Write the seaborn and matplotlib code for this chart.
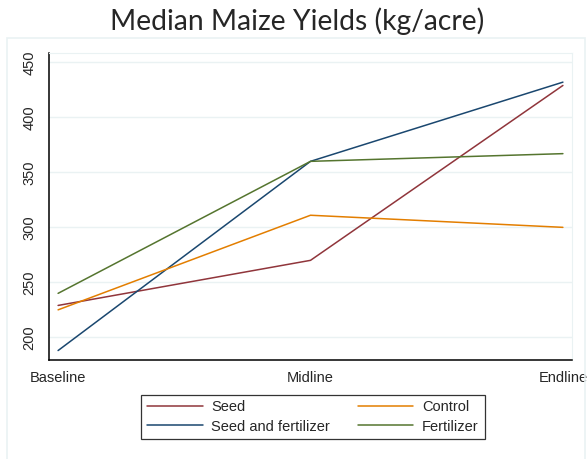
import pandas as pd
import matplotlib
matplotlib.use('Agg')
import matplotlib.pyplot as plt
import seaborn as sns
from matplotlib.lines import Line2D
from matplotlib.patches import Rectangle

rounds = ['Baseline', 'Midline', 'Endline']
seed = [229, 270, 429]
seed_fert = [188, 360, 432]
control = [225, 311, 300]
fertilizer = [240, 360, 367]

groups = ['Seed', 'Seed and fertilizer', 'Control', 'Fertilizer']
colors = ['#90353B', '#1A476F', '#E37E00', '#55752F']

rows = []
for g, vals in zip(groups, [seed, seed_fert, control, fertilizer]):
    for r, v in zip(rounds, vals):
        rows.append({'round': r, 'yield': v, 'group': g})
df = pd.DataFrame(rows)

sns.set_style('white')
plt.rcParams['font.family'] = ['Liberation Sans', 'DejaVu Sans']

W, H = 588, 459
fig = plt.figure(figsize=(W / 100, H / 100), dpi=100)
ax = fig.add_axes([49 / W, (H - 360) / H, (572 - 49) / W, (360 - 53) / H])

# outer graph region frame
fig.patches.append(Rectangle((7 / W, -0.01), (585 - 7) / W, (H - 38) / H + 0.01,
                             transform=fig.transFigure, fill=False,
                             edgecolor='#EAF2F3', linewidth=1.2))

sns.lineplot(data=df, x='round', y='yield', hue='group', hue_order=groups,
             palette=colors, sort=False, linewidth=1.1, legend=False, ax=ax)

ax.set_xlim(-0.036, 2.036)
ax.set_ylim(179.4, 458.5)
ax.set_yticks([200, 250, 300, 350, 400, 450])
ax.set_yticklabels(['200', '250', '300', '350', '400', '450'], rotation=90, va='center')
ax.set_xticks([0, 1, 2])
ax.set_xticklabels(rounds)
ax.tick_params(axis='both', labelsize=10.5, length=5, width=1, color='black',
               direction='out', pad=3)
ax.tick_params(axis='y', pad=4)
ax.yaxis.grid(True, color='#EAF2F3', linewidth=1)
ax.xaxis.grid(False)
ax.set_xlabel('')
ax.set_ylabel('')
for s in ['top', 'right']:
    ax.spines[s].set_color('#EAF2F3')
for s in ['left', 'bottom']:
    ax.spines[s].set_color('black')
    ax.spines[s].set_linewidth(1.1)

handles = [Line2D([], [], color=c, linewidth=1.1) for c in colors]
leg = fig.legend(handles, groups, ncol=2, loc='center',
                 bbox_to_anchor=(313 / W, 1 - 417 / H), frameon=True,
                 fancybox=False, edgecolor='black', fontsize=10.5,
                 handlelength=3.8, columnspacing=1.9, handletextpad=0.6,
                 borderpad=0.4, labelspacing=0.35)
leg.get_frame().set_linewidth(0.9)

fig.text(297 / W, 1 - 21 / H, 'Median Maize Yields (kg/acre)', ha='center',
         va='center', fontsize=20.3, family=['Lato', 'DejaVu Sans'])

fig.savefig('out.png', dpi=100, facecolor='white')
